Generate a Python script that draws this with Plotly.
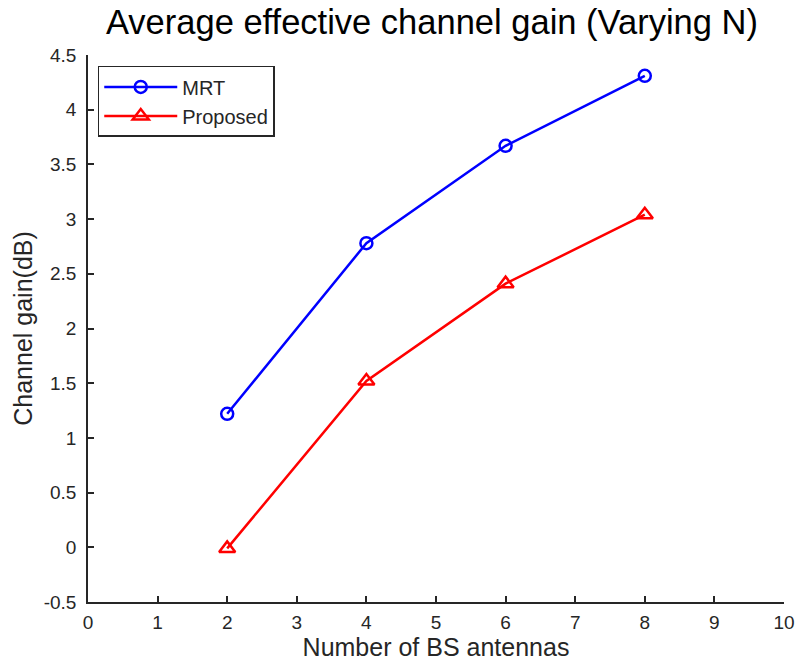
import plotly.graph_objects as go

# Number of base-station antennas
antennas = [2, 4, 6, 8]
# Average effective channel gain (dB)
mrt_gain = [1.22, 2.78, 3.67, 4.31]
proposed_gain = [-0.01, 1.52, 2.41, 3.04]

x_ticks = list(range(0, 11))
y_ticks = [-0.5, 0, 0.5, 1, 1.5, 2, 2.5, 3, 3.5, 4, 4.5]
y_tick_text = ["-0.5", "0", "0.5", "1", "1.5", "2", "2.5", "3", "3.5", "4", "4.5"]

font_family = "Liberation Sans, Arial, sans-serif"
text_color = "#262626"

fig = go.Figure()
fig.add_trace(go.Scatter(
    x=antennas, y=mrt_gain, name="MRT", mode="lines+markers",
    line=dict(color="#0000ff", width=2.5),
    marker=dict(symbol="circle-open", size=12, color="#0000ff", line=dict(width=2.5)),
))
fig.add_trace(go.Scatter(
    x=antennas, y=proposed_gain, name="Proposed", mode="lines+markers",
    line=dict(color="#ff0000", width=2.5),
    marker=dict(symbol="triangle-up-open", size=14, color="#ff0000", line=dict(width=2.5)),
))

axis_common = dict(
    showgrid=False, zeroline=False, showline=True, linecolor=text_color, linewidth=1.5,
    ticks="inside", ticklen=6, tickwidth=1.5, tickcolor=text_color,
    tickfont=dict(size=19, color=text_color, family=font_family),
    mirror=False, automargin=False,
)

fig.update_layout(
    width=797, height=665,
    margin=dict(l=88, r=13, t=55, b=63),
    paper_bgcolor="white", plot_bgcolor="white",
    font=dict(family=font_family, color=text_color),
    title=dict(text="Average effective channel gain (Varying N)", x=0.542, xanchor="center",
               y=0.967, yanchor="middle", font=dict(size=34.5, color="#000000")),
    xaxis=dict(range=[0, 10], tickvals=x_ticks, ticklabelstandoff=2,
               title=dict(text="Number of BS antennas", font=dict(size=25, color=text_color), standoff=4),
               **axis_common),
    yaxis=dict(range=[-0.5, 4.5], tickvals=y_ticks, ticktext=y_tick_text, ticklabelstandoff=6,
               title=dict(text="Channel gain(dB)", font=dict(size=25, color=text_color), standoff=4),
               **axis_common),
    legend=dict(x=0.014, y=0.98, xanchor="left", yanchor="top",
                bordercolor=text_color, borderwidth=1.5, bgcolor="white",
                font=dict(size=20, color=text_color), itemwidth=73),
    showlegend=True,
)

fig.write_html("out.html")
